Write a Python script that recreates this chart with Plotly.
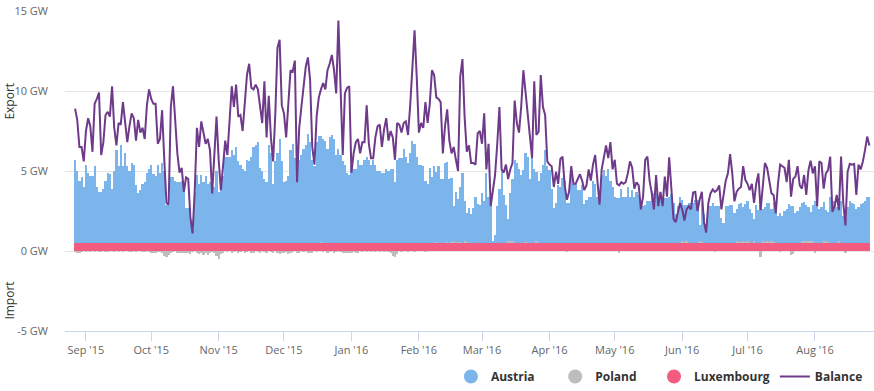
import pandas as pd
import plotly.graph_objects as go

START_DATE = "2015-08-27"

BALANCE = [
    8.9, 8.2, 6.5, 6.5, 5.6, 7.5, 8.3, 7.8, 6.2, 9.2,
    9.5, 9.9, 6.0, 6.8, 8.5, 8.7, 8.4, 10.3, 7.7, 6.6,
    8.0, 7.9, 9.3, 8.1, 6.8, 7.8, 8.6, 8.3, 6.9, 8.2,
    7.4, 7.7, 7.0, 9.1, 10.1, 9.5, 9.2, 9.2, 6.7, 7.0,
    8.8, 5.7, 3.0, 2.9, 9.0, 10.3, 8.2, 6.1, 4.9, 5.2,
    3.7, 4.6, 4.5, 2.1, 1.1, 3.8, 7.7, 6.5, 8.1, 7.4,
    6.7, 7.0, 6.3, 3.6, 5.7, 8.4, 5.7, 3.8, 5.3, 6.9,
    6.0, 8.0, 10.3, 9.0, 10.4, 8.4, 8.5, 7.5, 9.6, 11.0,
    11.7, 10.2, 10.1, 10.4, 10.1, 9.2, 8.0, 10.6, 7.1, 9.7,
    7.1, 5.6, 8.5, 12.7, 13.2, 9.1, 8.6, 7.1, 9.5, 11.3,
    11.2, 11.9, 4.3, 7.7, 9.0, 10.2, 11.5, 12.1, 10.7, 6.5,
    5.4, 8.4, 9.6, 10.1, 10.5, 10.1, 11.3, 11.7, 12.25, 11.3,
    9.85, 14.4,
    10.3, 6.0, 9.85, 10.2, 10.3, 4.9, 6.1, 6.8, 7.0, 6.1,
    6.8, 6.8, 9.1, 6.7, 5.8, 5.8, 7.1, 7.8, 7.9, 6.5,
    7.6, 8.3, 6.9, 7.5, 7.1, 5.7, 8.0, 7.9, 7.4, 8.0,
    8.1, 7.25, 9.1, 11.5, 13.8, 10.9, 7.4, 8.0, 7.7, 9.3,
    8.0, 9.2, 11.3, 11.0, 9.6, 9.5, 9.3, 6.1, 7.8, 8.85,
    6.9, 6.1, 6.5, 5.7, 5.0, 10.9, 12.0, 8.4, 6.2, 6.6,
    5.5, 5.5,
    5.4, 7.35, 7.5, 6.7, 8.6, 5.1, 6.7, 2.8, 3.8, 4.75,
    6.7, 9.0, 5.1, 4.9, 5.4, 4.5, 5.1, 5.5, 9.4, 8.0,
    7.4, 9.0, 11.3, 9.85, 8.4, 7.35, 5.8, 10.6, 7.25, 7.45,
    11.0, 9.0, 8.5, 5.6, 5.4, 5.3, 4.0, 4.95, 4.2, 5.75,
    5.9, 4.1, 3.2, 3.7, 5.3, 4.2, 4.2, 4.5, 4.8, 4.4,
    3.8, 4.1, 5.1, 4.4, 5.4, 6.0, 4.2, 2.9, 5.1, 5.9,
    6.6, 5.8,
    6.8, 5.1, 5.7, 4.2, 4.1, 4.3, 4.2, 4.3, 4.85, 5.6,
    5.2, 3.9, 4.3, 4.1, 2.6, 3.4, 5.7, 5.9, 4.4, 3.6,
    2.6, 4.75, 2.8, 3.7, 2.8, 4.65, 3.4, 5.85, 3.7, 2.0,
    1.8, 2.5, 3.0, 2.6, 1.9, 2.6, 2.8, 2.6, 3.65, 3.7,
    2.5, 3.2, 3.7, 1.8, 1.15, 3.0, 3.6, 3.85, 3.7, 3.8,
    4.1, 2.6, 3.4, 4.4, 4.85, 6.05, 4.85, 3.1, 3.7, 3.9,
    4.0, 5.3, 4.45, 4.2, 3.8, 4.2, 3.0, 4.2, 4.85, 2.55,
    4.0, 5.5, 5.2, 4.45, 3.6, 3.5, 2.35, 4.2, 5.4, 5.3,
    5.2, 4.3, 5.7, 3.4, 4.5, 4.65, 5.3, 4.1, 3.9, 4.75,
    3.5, 5.05, 5.65, 4.85, 5.3, 2.8, 5.6, 5.5, 3.9, 4.85,
    5.05, 5.9, 2.45, 2.8, 3.5, 2.55, 5.9, 3.0, 1.6, 4.95,
    5.45, 5.4, 5.45, 3.5, 5.4, 5.1, 5.6, 6.3, 7.15, 6.6,
]

AUSTRIA = [
    5.2, 4.5, 3.9, 4.1, 3.5, 4.9, 4.4, 4.2, 4.2, 4.8,
    3.5, 3.2, 3.2, 3.4, 3.9, 4.4, 4.3, 3.4, 4.5, 5.8,
    4.8, 6.1, 4.8, 5.6, 4.8, 4.5, 5.0, 4.9, 3.6, 3.1,
    3.3, 3.7, 3.8, 4.4, 4.6, 4.9, 4.3, 4.2, 4.9, 4.4,
    5.0, 4.5, 2.4, 2.4, 4.1, 4.1, 3.9, 3.8, 3.8, 3.9,
    3.2, 2.2, 2.2, 2.2, 0.8, 3.2, 4.25, 3.7, 4.25, 3.8,
    4.2, 3.7, 3.8, 3.3, 3.5, 4.5, 3.2, 3.7, 4.2, 5.35,
    5.4, 5.35, 5.8, 5.5, 6.0, 5.1, 4.9, 4.6, 4.5, 5.2,
    5.1, 5.4, 6.0, 6.1, 6.3, 4.7, 4.5, 4.0, 3.8, 6.1,
    5.6, 3.7, 5.1, 5.6, 6.5, 5.1, 3.8, 3.9, 4.2, 5.8,
    6.2, 5.3, 4.8, 5.2, 5.5, 5.85, 6.1, 6.8, 6.3, 5.2,
    4.8, 6.3, 6.7, 6.6, 6.5, 6.4, 5.85, 6.6, 6.75, 6.5,
    5.5, 5.9,
    5.5, 5.1, 4.9, 4.4, 4.25, 4.8, 4.6, 4.6, 5.2, 4.9,
    4.9, 5.2, 5.4, 5.2, 4.9, 5.2, 4.9, 4.5, 4.5, 4.4,
    4.4, 4.6, 4.5, 4.6, 4.6, 3.8, 5.2, 5.3, 5.3, 5.85,
    5.4, 5.0, 5.6, 6.4, 6.2, 5.4, 4.9, 4.9, 4.8, 3.9,
    3.7, 4.7, 4.1, 4.8, 4.4, 4.8, 4.0, 4.0, 5.0, 5.0,
    4.0, 4.0, 2.2, 3.2, 2.7, 3.4, 4.4, 2.5, 1.85, 2.2,
    1.8, 2.2, 2.9, 2.4, 2.4, 3.1, 2.6, 4.35, 2.9, 2.3,
    0.1, 0.5, 2.3, 3.35, 4.55, 3.0, 2.4, 1.4, 3.0, 3.9,
    5.2, 5.0, 4.6, 4.25, 4.55, 5.6, 5.4, 4.0, 5.5, 4.6,
    4.35, 3.9, 4.35, 4.9, 5.8, 4.8, 4.55, 3.35, 2.2, 2.5,
    3.6, 3.5, 4.05, 3.9, 2.5, 2.5, 4.25, 3.7, 3.7, 3.3,
    3.3, 3.6, 2.45, 2.7, 2.9, 2.9, 3.9, 3.7, 2.9, 3.2,
    4.25, 4.55,
    4.2, 4.6, 3.9, 3.5, 2.9, 2.8, 2.8, 3.35, 2.9, 2.85,
    3.5, 2.85, 3.3, 2.9, 3.2, 3.0, 2.1, 2.3, 2.35, 2.6,
    2.6, 3.25, 3.15, 3.1, 2.9, 2.8, 2.8, 2.8, 2.8, 2.85,
    3.05, 2.5, 1.8, 2.3, 2.85, 2.6, 2.3, 2.25, 2.5, 2.5,
    2.5, 2.7, 2.7, 1.0, 2.5, 1.8, 1.2, 2.05, 2.3, 2.5,
    2.3, 2.3, 2.3, 1.55, 1.25, 2.3, 2.3, 2.35, 2.4, 1.85,
    2.05, 2.4,
    2.4, 2.15, 2.4, 2.5, 2.15, 1.9, 1.4, 2.4, 2.05, 2.4,
    2.05, 2.15, 2.4, 2.45, 2.05, 2.45, 1.85, 1.7, 1.85, 1.7,
    2.0, 2.1, 2.45, 2.3, 2.3, 1.85, 2.0, 2.25, 2.4, 2.45,
    2.25, 2.1, 1.85, 2.25, 2.6, 2.5, 2.15, 2.25, 2.45, 1.9,
    1.85, 2.85, 2.6, 2.6, 2.25, 2.05, 2.6, 1.7, 1.65, 2.25,
    2.6, 2.5, 2.45, 2.1, 2.25, 2.45, 2.5, 2.6, 2.9, 2.85,
]

POLAND = [
    -0.05, -0.15, -0.12, -0.05, 0, -0.05, 0, -0.04, 0, -0.05,
    0, -0.03, -0.05, 0, -0.04, -0.05, 0, 0, -0.05, 0,
    -0.03, 0, -0.05, 0, 0, -0.05, -0.03, 0, -0.05, 0,
    0, -0.05, -0.06, 0, -0.03, -0.1, -0.15, -0.1, -0.03, -0.05,
    -0.15, -0.3, -0.35, -0.25, -0.1, -0.05, 0, -0.1, -0.15, -0.15,
    -0.1, -0.15, -0.12, -0.18, -0.05, 0, -0.1, -0.2, -0.15, -0.22,
    -0.15, -0.25, -0.12, -0.05, -0.15, -0.3, -0.5, -0.2, -0.08, 0,
    -0.05, 0, -0.1, -0.05, 0, -0.08, -0.05, 0, -0.1, -0.05,
    0, -0.08, -0.1, 0, -0.05, -0.12, 0, -0.05, -0.1, 0,
    -0.05, -0.1, 0, -0.15, -0.2, -0.1, -0.15, -0.05, -0.2, -0.1,
    -0.05, 0, -0.08, -0.12, 0, -0.05, 0, -0.1, -0.15, -0.1,
    0, -0.05, 0, 0.08, -0.05, 0, -0.1, -0.05, 0, -0.08,
    -0.05, 0, -0.05, -0.1, -0.12, -0.08, -0.1, -0.12, -0.05, -0.1,
    -0.08, 0, -0.05, 0, -0.03, 0, -0.05, 0, -0.04, 0,
    -0.05, 0, -0.03, 0, -0.05, -0.1, -0.3, -0.4, -0.2, 0,
    -0.03, 0, 0, -0.05, 0, 0, -0.03, 0, 0, 0,
    0, -0.03, 0, 0, 0, 0, 0.05, 0, 0, 0,
    0, 0.08, 0, 0.05, 0.1, 0, 0.06, 0.08, 0, 0.1,
    0.05, 0, 0, 0, 0, 0.03, 0, 0, 0, 0,
    0, 0, 0.05, 0, 0, 0, 0, 0.03, 0, 0.12,
    0.15, 0.1, 0, 0, 0, 0, 0, 0.05, 0, 0,
    0, 0, 0.1, 0, 0, 0, 0, 0, 0, 0,
    0, 0, 0, 0, 0, 0, -0.03, 0, 0, 0,
    0, 0, 0, 0, 0, 0, 0, 0, 0, 0,
    0, 0, 0, 0, 0, 0, 0, 0, 0, 0,
    -0.1, 0, 0, 0, 0, 0, 0, 0, 0, 0,
    0, 0, 0, 0, 0, 0, 0, 0, 0, 0,
    0, 0, 0, 0, 0, 0, 0.03, 0, 0, 0.1,
    0.05, 0.1, 0, 0, 0, 0, 0, 0.1, 0.08, 0,
    0, 0, 0, 0, -0.05, 0, 0, 0, 0, 0,
    0, 0, 0, 0, 0.1, 0.05, 0.08, 0.1, 0.05, 0.1,
    0, 0, 0.1, 0, 0, -0.35, 0.1, 0.08, 0.1, 0.05,
    0.1, 0.05, 0, 0, -0.05, 0, 0, 0, 0, -0.25,
    -0.2, 0, 0, 0, 0.12, 0.1, 0.15, 0.15, 0.1, 0.12,
    -0.1, 0, 0, 0, 0.1, 0.15, 0.08, 0, 0, 0,
    0, 0.12, 0, 0, -0.1, 0, 0, 0, 0, 0,
    0, 0, 0, 0, 0, 0,
]

LUXEMBOURG = [
    0.5, 0.5, 0.5, 0.5, 0.5, 0.5, 0.5, 0.5, 0.5, 0.5,
    0.5, 0.5, 0.5, 0.5, 0.5, 0.5, 0.5, 0.5, 0.5, 0.5,
    0.5, 0.5, 0.5, 0.5, 0.5, 0.5, 0.5, 0.5, 0.5, 0.5,
    0.5, 0.5, 0.5, 0.5, 0.5, 0.5, 0.5, 0.5, 0.5, 0.5,
    0.5, 0.5, 0.5, 0.5, 0.5, 0.5, 0.5, 0.5, 0.5, 0.5,
    0.5, 0.5, 0.5, 0.5, 0.5, 0.5, 0.5, 0.5, 0.5, 0.5,
    0.5, 0.5, 0.5, 0.5, 0.5, 0.5, 0.5, 0.5, 0.5, 0.5,
    0.5, 0.5, 0.5, 0.5, 0.5, 0.5, 0.5, 0.5, 0.5, 0.5,
    0.5, 0.5, 0.5, 0.5, 0.5, 0.5, 0.5, 0.5, 0.5, 0.5,
    0.5, 0.5, 0.5, 0.5, 0.5, 0.5, 0.5, 0.5, 0.5, 0.5,
    0.5, 0.5, 0.5, 0.5, 0.5, 0.5, 0.5, 0.5, 0.5, 0.5,
    0.5, 0.5, 0.5, 0.5, 0.5, 0.5, 0.5, 0.5, 0.5, 0.5,
    0.5, 0.5, 0.5, 0.5, 0.5, 0.5, 0.5, 0.5, 0.5, 0.5,
    0.5, 0.5, 0.5, 0.5, 0.5, 0.5, 0.5, 0.5, 0.5, 0.5,
    0.5, 0.5, 0.5, 0.5, 0.5, 0.5, 0.5, 0.5, 0.5, 0.5,
    0.5, 0.5, 0.5, 0.5, 0.5, 0.5, 0.5, 0.5, 0.5, 0.5,
    0.5, 0.5, 0.5, 0.5, 0.5, 0.5, 0.5, 0.5, 0.5, 0.5,
    0.5, 0.5, 0.5, 0.5, 0.5, 0.5, 0.5, 0.5, 0.5, 0.5,
    0.5, 0.5, 0.5, 0.5, 0.5, 0.5, 0.5, 0.5, 0.5, 0.5,
    0.5, 0.5, 0.5, 0.5, 0.5, 0.5, 0.5, 0.5, 0.5, 0.5,
    0.5, 0.5, 0.5, 0.5, 0.5, 0.5, 0.5, 0.5, 0.5, 0.5,
    0.5, 0.5, 0.5, 0.5, 0.5, 0.5, 0.5, 0.5, 0.5, 0.5,
    0.5, 0.5, 0.5, 0.5, 0.5, 0.5, 0.5, 0.5, 0.5, 0.5,
    0.5, 0.5, 0.5, 0.5, 0.5, 0.5, 0.5, 0.5, 0.5, 0.5,
    0.5, 0.5, 0.5, 0.5, 0.5, 0.5, 0.5, 0.5, 0.5, 0.5,
    0.5, 0.5, 0.5, 0.5, 0.5, 0.5, 0.5, 0.5, 0.5, 0.5,
    0.5, 0.5, 0.5, 0.5, 0.5, 0.5, 0.5, 0.5, 0.5, 0.5,
    0.5, 0.5, 0.5, 0.5, 0.5, 0.5, 0.5, 0.5, 0.5, 0.5,
    0.5, 0.5, 0.5, 0.5, 0.5, 0.5, 0.5, 0.5, 0.5, 0.5,
    0.5, 0.5, 0.5, 0.5, 0.5, 0.5, 0.5, 0.5, 0.5, 0.5,
    0.5, 0.5, 0.5, 0.5, 0.5, 0.5, 0.5, 0.5, 0.5, 0.5,
    0.5, 0.5, 0.5, 0.5, 0.5, 0.5, 0.5, 0.5, 0.5, 0.5,
    0.5, 0.5, 0.5, 0.5, 0.5, 0.5, 0.5, 0.5, 0.5, 0.5,
    0.5, 0.5, 0.5, 0.5, 0.5, 0.5, 0.5, 0.5, 0.5, 0.5,
    0.5, 0.5, 0.5, 0.5, 0.5, 0.5, 0.5, 0.5, 0.5, 0.5,
    0.5, 0.5, 0.5, 0.5, 0.5, 0.5, 0.5, 0.5, 0.5, 0.5,
    0.5, 0.5, 0.5, 0.5, 0.5, 0.5,
]

SERIES_NAMES = ["Austria", "Poland", "Luxembourg", "Balance"]
Y_TICKS = [-5, 0, 5, 10, 15]
Y_TICK_LABELS = ["-5 GW", "0 GW", "5 GW", "10 GW", "15 GW"]

dates = pd.date_range(START_DATE, periods=len(BALANCE), freq="D")

C_AUSTRIA = "#7cb5ec"
C_POLAND = "#bdbdbd"
C_LUX = "#f45b80"
C_BAL = "#6e3a8a"
FONT = "Open Sans"
NB = "\u00a0"

fig = go.Figure()
# stacked bars: bottom first
fig.add_trace(go.Bar(x=dates, y=LUXEMBOURG, name="Luxembourg", marker=dict(color=C_LUX, line=dict(width=0)), showlegend=False))
fig.add_trace(go.Bar(x=dates, y=POLAND, name="Poland", marker=dict(color=C_POLAND, line=dict(width=0)), showlegend=False))
fig.add_trace(go.Bar(x=dates, y=AUSTRIA, name="Austria", marker=dict(color=C_AUSTRIA, line=dict(width=0)), showlegend=False))

# legend entries (circle markers like the reference); trailing spaces tune item spacing
pads = {"Austria": NB * 5, "Poland": NB * 4, "Luxembourg": ""}
for nm, col in [("Austria", C_AUSTRIA), ("Poland", C_POLAND), ("Luxembourg", C_LUX)]:
    fig.add_trace(go.Scatter(x=[None], y=[None], mode="markers", name=nm + pads[nm],
                             marker=dict(symbol="circle", size=14, color=col)))

fig.add_trace(go.Scatter(x=dates, y=BALANCE, mode="lines", name="Balance",
                         line=dict(color=C_BAL, width=2)))

fig.update_layout(
    width=874, height=391,
    margin=dict(l=65, r=0, t=11, b=60),
    paper_bgcolor="white", plot_bgcolor="white",
    barmode="relative", bargap=0,
    font=dict(family=FONT, size=11, color="#666666"),
    showlegend=True,
    legend=dict(orientation="h", xanchor="left", x=0.477, yanchor="middle", y=-0.143,
                font=dict(family=FONT, size=12, color="#333333", weight="bold"),
                itemwidth=30, bgcolor="rgba(0,0,0,0)"),
    xaxis=dict(type="date", range=["2015-08-22 09:00", "2016-08-28 03:00"],
               tick0="2015-09-01", dtick="M1", tickformat="%b '%y",
               showgrid=False, zeroline=False, showline=True, linecolor="#ccd6eb", linewidth=1,
               ticks="outside", ticklen=9, tickcolor="#ccd6eb", tickwidth=1,
               tickfont=dict(family=FONT, size=11, color="#666666")),
    yaxis=dict(range=[-5, 15], tickvals=Y_TICKS, ticktext=Y_TICK_LABELS,
               showgrid=True, gridcolor="#e6e6e6", gridwidth=1, zeroline=False,
               showline=False, ticks="", ticklabelstandoff=16, ticklabeloverflow="allow",
               tickfont=dict(family=FONT, size=11, color="#666666")),
    annotations=[
        dict(text="Export", xref="paper", yref="y", x=-0.068, y=9.4, textangle=-90,
             showarrow=False, xanchor="center", yanchor="middle",
             font=dict(family=FONT, size=12, color="#333333")),
        dict(text="Import", xref="paper", yref="y", x=-0.068, y=-3.1, textangle=-90,
             showarrow=False, xanchor="center", yanchor="middle",
             font=dict(family=FONT, size=12, color="#333333")),
    ],
)

# remove the default 8px page margin so the figure fills the window exactly
fig.write_html("out.html", config={"displayModeBar": False},
               post_script="document.body.style.margin='0px';")
